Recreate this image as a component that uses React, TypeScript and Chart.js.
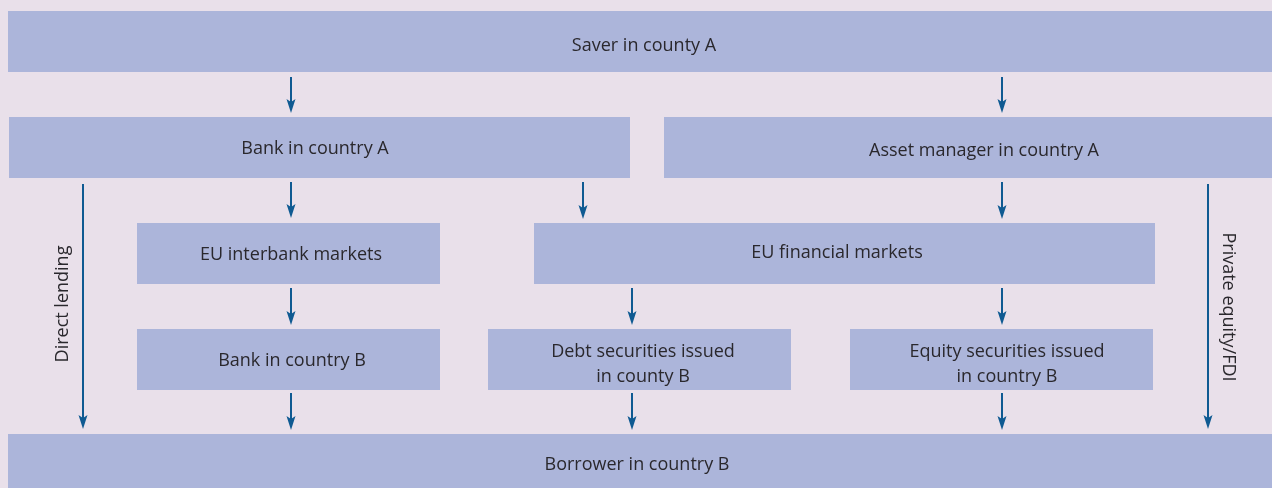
import React, { useEffect, useRef } from "react";
import { Chart, registerables } from "chart.js";

Chart.register(...registerables);

// Boxes in diagram units (x: 0..1272, y: 0..488, y downwards)
const boxLabels: string[][] = [
  ["Saver in county A"],
  ["Bank in country A"],
  ["Asset manager in country A"],
  ["EU interbank markets"],
  ["EU financial markets"],
  ["Bank in country B"],
  ["Debt securities issued", "in county B"],
  ["Equity securities issued", "in country B"],
  ["Borrower in country B"],
];
const boxX0 = [8, 9, 664, 137, 534, 137, 488, 850, 8];
const boxX1 = [1272, 630, 1272, 440, 1155, 440, 791, 1153, 1272];
const boxY0 = [11, 117, 117, 223, 223, 329, 329, 329, 434];
const boxY1 = [72, 178, 178, 284, 284, 390, 390, 390, 488];
const labelX = [644, 315, 984, 291, 837, 292, 643, 1007, 637];
const labelY = [46, 149, 151, 255, 253, 361, 364, 364, 465];

// Arrows: x, start y, tip y
const arrowX = [291, 1002, 83, 291, 583, 1002, 1208, 291, 632, 1002, 291, 632, 1002];
const arrowY0 = [77, 77, 184, 182, 182, 182, 184, 288, 288, 288, 393, 393, 393];
const arrowY1 = [113, 113, 429, 218, 219, 219, 429, 325, 325, 325, 430, 430, 430];

// Rotated flow labels
const sideLabels = ["Direct lending", "Private equity/FDI"];
const sideX = [63, 1228];
const sideY = [304, 307];
const sideRot = [-Math.PI / 2, Math.PI / 2];

const BG = "#E9E0EA";
const BOX = "#ACB5DA";
const ARROW = "#0F5A92";
const TEXT = "#2A282D";
const FONT = "18px 'Open Sans', 'Noto Sans', sans-serif";

const diagramPlugin = {
  id: "diagram",
  beforeDraw(chart: any) {
    const { ctx, width, height } = chart;
    ctx.save();
    ctx.fillStyle = BG;
    ctx.fillRect(0, 0, width, height);
    ctx.restore();
  },
  beforeDatasetsDraw(chart: any) {
    const { ctx } = chart;
    const xs = chart.scales.x;
    const ys = chart.scales.y;
    ctx.save();
    ctx.fillStyle = BOX;
    for (let i = 0; i < boxLabels.length; i++) {
      const x0 = xs.getPixelForValue(boxX0[i]);
      const x1 = xs.getPixelForValue(boxX1[i]);
      const y0 = ys.getPixelForValue(boxY0[i]);
      const y1 = ys.getPixelForValue(boxY1[i]);
      ctx.fillRect(x0, y0, x1 - x0, y1 - y0);
    }
    ctx.fillStyle = TEXT;
    ctx.font = FONT;
    ctx.textAlign = "center";
    ctx.textBaseline = "middle";
    for (let i = 0; i < boxLabels.length; i++) {
      const lines = boxLabels[i];
      const cx = xs.getPixelForValue(labelX[i]);
      const cy = ys.getPixelForValue(labelY[i]);
      const lh = 25;
      lines.forEach((t, k) => {
        ctx.fillText(t, cx, cy + (k - (lines.length - 1) / 2) * lh);
      });
    }
    for (let i = 0; i < sideLabels.length; i++) {
      ctx.save();
      ctx.translate(xs.getPixelForValue(sideX[i]), ys.getPixelForValue(sideY[i]));
      ctx.rotate(sideRot[i]);
      ctx.fillText(sideLabels[i], 0, 0);
      ctx.restore();
    }
    ctx.restore();
  },
  afterDatasetsDraw(chart: any) {
    const { ctx } = chart;
    const xs = chart.scales.x;
    const ys = chart.scales.y;
    ctx.save();
    ctx.fillStyle = ARROW;
    for (let i = 0; i < arrowX.length; i++) {
      const x = xs.getPixelForValue(arrowX[i]);
      const tip = ys.getPixelForValue(arrowY1[i]);
      ctx.beginPath();
      ctx.moveTo(x, tip);
      ctx.lineTo(x - 4.5, tip - 14);
      ctx.lineTo(x, tip - 11);
      ctx.lineTo(x + 4.5, tip - 14);
      ctx.closePath();
      ctx.fill();
    }
    ctx.restore();
  },
};

export default function App() {
  const ref = useRef<HTMLCanvasElement | null>(null);
  useEffect(() => {
    document.body.style.margin = "0";
    const datasets = arrowX.map((x, i) => ({
      data: [
        { x, y: arrowY0[i] },
        { x, y: arrowY1[i] - 11 },
      ],
      showLine: true,
      borderColor: ARROW,
      borderWidth: 2,
      pointRadius: 0,
      pointHoverRadius: 0,
    }));
    const chart = new Chart(ref.current as HTMLCanvasElement, {
      type: "scatter",
      data: { datasets },
      options: {
        animation: false,
        responsive: false,
        maintainAspectRatio: false,
        events: [],
        layout: { padding: 0 },
        plugins: { legend: { display: false }, tooltip: { enabled: false } },
        scales: {
          x: { type: "linear", min: 0, max: 1272, display: false },
          y: { type: "linear", min: 0, max: 488, reverse: true, display: false },
        },
      },
      plugins: [diagramPlugin],
    });
    const f = (document as any).fonts;
    if (f && f.load) {
      f.load(FONT).then(() => chart.draw()).catch(() => {});
    }
    return () => chart.destroy();
  }, []);
  return (
    <div style={{ width: 1272, height: 488 }}>
      <canvas ref={ref} width={1272} height={488} style={{ display: "block" }} />
    </div>
  );
}
